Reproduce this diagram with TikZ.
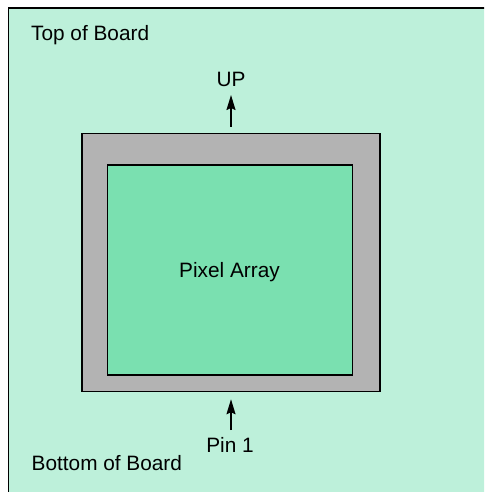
\documentclass[tikz,border=0pt]{standalone}
\usepackage{fontspec}
\setmainfont{Liberation Sans}
\usepackage{tikz}
\usetikzlibrary{arrows.meta}

\definecolor{boardgreen}{RGB}{189,240,218}
\definecolor{arraygreen}{RGB}{122,224,176}
\definecolor{framegray}{RGB}{179,179,179}

\begin{document}
\begin{tikzpicture}[x=1pt, y=-1pt,
	every node/.style={font=\fontsize{20.8}{24}\selectfont},
	label/.style={inner sep=0pt},
	arrowline/.style={line width=1.5pt, -{Stealth[length=15pt, width=9pt, inset=2pt]}}]
	\clip (0,0) rectangle (484,492);
	% board
	\fill [boardgreen] (8.5,8) rectangle (500,510);
	\draw [line width=1.5pt] (8.5,510) -- (8.5,8) -- (500,8);
	\node [label, anchor=base west] (top) at (31,40.7) {Top of Board};
	\node [label, anchor=base west] (bottom) at (31.5,470.7) {Bottom of Board};
	% sensor package
	\node [draw, line width=1.5pt, fill=framegray, inner sep=0pt,
		minimum width=298pt, minimum height=258pt] (chip) at (231,262.5) {};
	\node [draw, line width=1.2pt, fill=arraygreen, inner sep=0pt,
		minimum width=245pt, minimum height=210pt] (array) at (229.7,270) 
		{};
	\node [label, anchor=base] (pixels) at (229.5,277) {Pixel Array};
	\node [label, anchor=base] (up) at (231,87) {UP};
	\node [label, anchor=base] (pin) at (230,452) {Pin 1};
	\draw [arrowline] ([yshift=6pt]chip.north) to 
		([yshift=-8pt]up.base);
	\draw [arrowline] ([yshift=22pt]pin.base -| chip.south) to 
		([yshift=-7pt]chip.south);
\end{tikzpicture}
\end{document}
